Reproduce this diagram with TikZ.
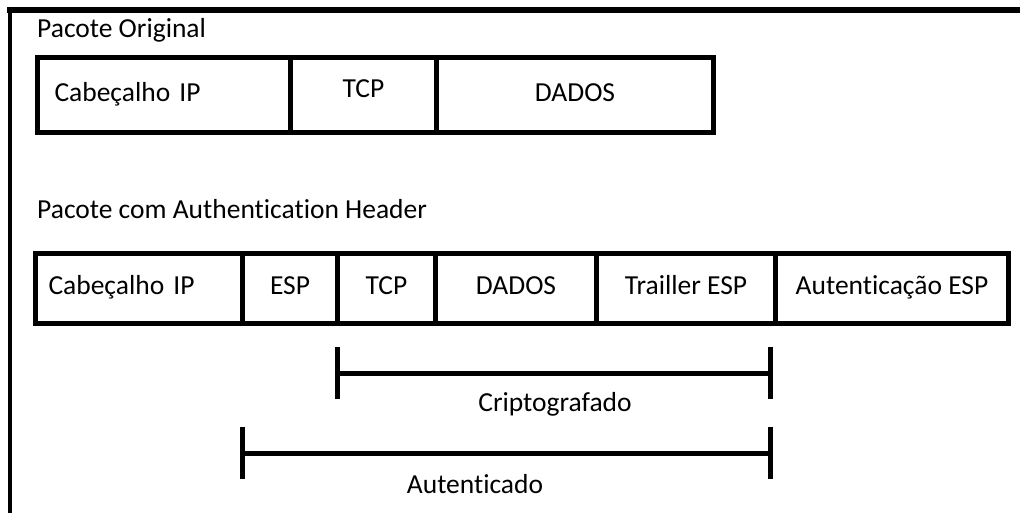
\documentclass[tikz,border=0pt]{standalone}
\usepackage{fontspec}
\setmainfont{Carlito}[Ligatures=NoCommon]
\usetikzlibrary{arrows.meta}

\tikzset{
  txt/.style={text height=18pt, text depth=6pt},
  cell/.style={draw, txt, line width=5pt, inner sep=0pt, minimum height=#1, anchor=north west},
  rowone/.style={cell=75pt},
  rowtwo/.style={cell=70pt},
  caption/.style={txt, anchor=west, inner sep=0pt},
  span/.style={line width=5pt, {Bar[width=52pt]}-{Bar[width=52pt]}},
  frame/.style={line cap=rect},
}

\begin{document}
\begin{tikzpicture}[x=1pt, y=-1pt, font=\fontsize{27.5}{32}\selectfont]
  \useasboundingbox (0,0) rectangle (1020,512);

  % outer frame: top and left edges only
  \coordinate (fTL) at (10,10);
  \coordinate (fTR) at (1022,10);
  \coordinate (fBL) at (10,514);
  \draw[frame, line width=6pt] (fTL) -- (fTR);
  \draw[frame, line width=4pt] (fTL) -- (fBL);

  % original packet
  \node[caption] (cap1) at (37,31) {Pacote Original};
  \node[rowone, minimum width=253pt, text width=219pt, inner xsep=17pt, align=left] (o1) at (35,55) {Cabeçalho IP};
  \node[rowone, minimum width=146pt] (o2) at (288,55) {\raisebox{4pt}{TCP}};
  \node[rowone, minimum width=277pt] (o3) at (434,55) {DADOS};

  % packet with authentication header
  \node[caption] (cap2) at (37,212) {Pacote com Authentication Header};
  \node[rowtwo, minimum width=207pt, text width=181pt, inner xsep=13pt, align=left] (a1) at (33,251) {Cabeçalho IP};
  \node[rowtwo, minimum width=95pt] (a2) at (240,251) {ESP};
  \node[rowtwo, minimum width=98pt] (a3) at (335,251) {TCP};
  \node[rowtwo, minimum width=161pt] (a4) at (433,251) {DADOS};
  \node[rowtwo, minimum width=179pt] (a5) at (594,251) {Trailler ESP};
  \node[rowtwo, minimum width=233pt] (a6) at (773,251) {Autenticação ESP};

  % spans below the packet
  \coordinate (cL) at (a3.south west |- 0,373);
  \coordinate (cR) at (a6.south west |- 0,373);
  \coordinate (aL) at (a2.south west |- 0,453);
  \coordinate (aR) at (a6.south west |- 0,453);
  \draw[span] (cL) -- (cR);
  \draw[span] (aL) -- (aR);
  \node[txt] (crypt) at (555,405) {Criptografado};
  \node[txt] (auth) at (475,487) {Autenticado};
\end{tikzpicture}
\end{document}
